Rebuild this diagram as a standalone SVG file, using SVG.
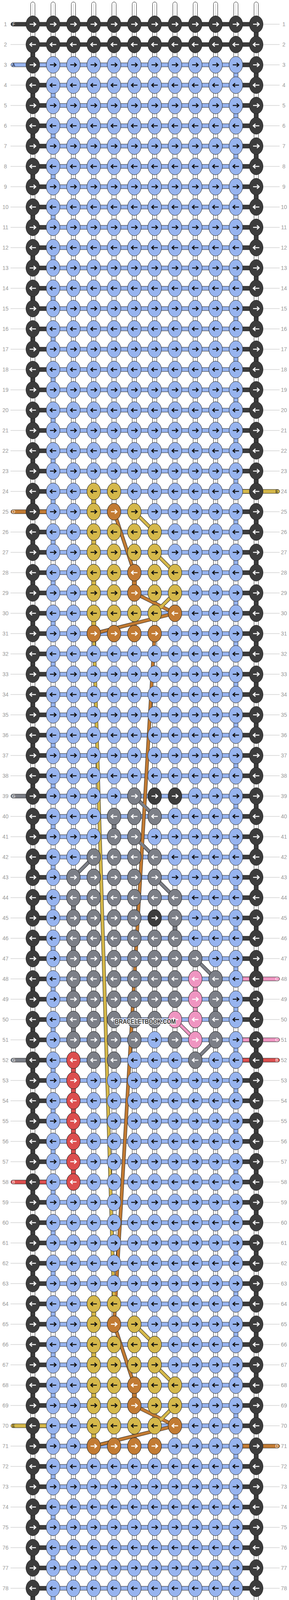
<svg xmlns="http://www.w3.org/2000/svg" xmlns:xlink="http://www.w3.org/1999/xlink" width="740" height="4908" viewBox="0 0 740 4908">
<style>
.d{fill:#3c3c3c;color:#fff}.b{fill:#97b4ef;color:#111}.y{fill:#d5b84a;color:#111}.o{fill:#c27b33;color:#fff}.g{fill:#7c7f87;color:#fff}.p{fill:#ef95c1;color:#fff}.r{fill:#dc4e4e;color:#fff}.w{fill:#fff}
.n{font-family:"Liberation Sans",Arial,sans-serif;font-size:14px;fill:#999;text-anchor:middle}
.lt{font-family:"Liberation Sans",Arial,sans-serif;font-size:11px;text-anchor:middle}
.fo{fill:none;stroke:#222;stroke-width:9;stroke-linecap:round}
.fi{fill:none;stroke-width:7;stroke-linecap:round}
</style>
<defs>
<g id="kr"><ellipse rx="17.5" ry="21.5" stroke="#222" stroke-width="1"/><path d="M-8 0H7M2-5L7.5 0L2 5" fill="none" stroke="currentColor" stroke-width="2.6"/></g>
<g id="kl"><ellipse rx="17.5" ry="21.5" stroke="#222" stroke-width="1"/><path d="M8 0H-7M-2-5L-7.5 0L-2 5" fill="none" stroke="currentColor" stroke-width="2.6"/></g>
<rect id="vs" x="-5.5" y="16" width="11" height="20" stroke="#222" stroke-width="1"/>
<g id="v"><rect x="-5.5" y="16" width="11" height="20" fill="#fff" stroke="#222" stroke-width="1"/><line x1="0" y1="16" x2="0" y2="36" stroke="#bbb" stroke-width="1"/></g>
<g id="VW"><use href="#v" x="84"/><use href="#v" x="136"/><use href="#v" x="188"/><use href="#v" x="240"/><use href="#v" x="292"/><use href="#v" x="344"/><use href="#v" x="396"/><use href="#v" x="448"/><use href="#v" x="500"/><use href="#v" x="552"/><use href="#v" x="604"/><use href="#v" x="656"/></g>
<g id="VE"><use href="#VW"/><use href="#vs" class="d" x="84"/><use href="#vs" class="b" x="136"/></g>
<g id="VO"><use href="#VW"/><use href="#vs" class="b" x="604"/><use href="#vs" class="d" x="656"/></g>
<g id="V1"><use href="#VW"/><use href="#vs" class="d" x="656"/></g>
<g id="V2"><use href="#VW"/><use href="#vs" class="d" x="84"/></g>
<g id="HB" stroke="#222" stroke-width="1"><rect x="84" y="-5" width="572" height="10" class="b"/><rect x="84" y="-5" width="52" height="10" class="d"/><rect x="604" y="-5" width="52" height="10" class="d"/></g>
<rect id="HD" x="84" y="-5" width="572" height="10" class="d" stroke="#222" stroke-width="1"/>
<rect id="EL" x="84" y="-5" width="52" height="10" stroke="#222" stroke-width="1"/>
<rect id="ER" x="604" y="-5" width="52" height="10" stroke="#222" stroke-width="1"/>
<rect id="SL" x="28" y="-5" width="60" height="10" rx="5" stroke="#222" stroke-width="1"/>
<rect id="SR" x="652" y="-5" width="64" height="10" rx="5" stroke="#222" stroke-width="1"/>
<g id="KRB"><use href="#kr" class="d" x="84"/><use href="#kr" class="b" x="136"/><use href="#kr" class="b" x="188"/><use href="#kr" class="b" x="240"/><use href="#kr" class="b" x="292"/><use href="#kr" class="b" x="344"/><use href="#kr" class="b" x="396"/><use href="#kr" class="b" x="448"/><use href="#kr" class="b" x="500"/><use href="#kr" class="b" x="552"/><use href="#kr" class="b" x="604"/><use href="#kr" class="d" x="656"/></g>
<g id="KLB"><use href="#kl" class="d" x="84"/><use href="#kl" class="b" x="136"/><use href="#kl" class="b" x="188"/><use href="#kl" class="b" x="240"/><use href="#kl" class="b" x="292"/><use href="#kl" class="b" x="344"/><use href="#kl" class="b" x="396"/><use href="#kl" class="b" x="448"/><use href="#kl" class="b" x="500"/><use href="#kl" class="b" x="552"/><use href="#kl" class="b" x="604"/><use href="#kl" class="d" x="656"/></g>
<g id="KRD" class="d"><use href="#kr" x="84"/><use href="#kr" x="136"/><use href="#kr" x="188"/><use href="#kr" x="240"/><use href="#kr" x="292"/><use href="#kr" x="344"/><use href="#kr" x="396"/><use href="#kr" x="448"/><use href="#kr" x="500"/><use href="#kr" x="552"/><use href="#kr" x="604"/><use href="#kr" x="656"/></g>
<g id="KLD" class="d"><use href="#kl" x="84"/><use href="#kl" x="136"/><use href="#kl" x="188"/><use href="#kl" x="240"/><use href="#kl" x="292"/><use href="#kl" x="344"/><use href="#kl" x="396"/><use href="#kl" x="448"/><use href="#kl" x="500"/><use href="#kl" x="552"/><use href="#kl" x="604"/><use href="#kl" x="656"/></g>
<g id="ts"><rect x="-5.5" y="0" width="11" height="50" rx="5.5" fill="#fff" stroke="#222" stroke-width="1"/><line x1="0" y1="5" x2="0" y2="50" stroke="#bbb" stroke-width="1"/></g>
<g id="TS"><use href="#ts" x="84"/><use href="#ts" x="136"/><use href="#ts" x="188"/><use href="#ts" x="240"/><use href="#ts" x="292"/><use href="#ts" x="344"/><use href="#ts" x="396"/><use href="#ts" x="448"/><use href="#ts" x="500"/><use href="#ts" x="552"/><use href="#ts" x="604"/><use href="#ts" x="656"/></g>
<line id="LL" x1="27" y1="0" x2="66" y2="0" stroke="#bbb" stroke-width="1"/>
<line id="RL" x1="674" y1="0" x2="716" y2="0" stroke="#bbb" stroke-width="1"/>
</defs>

<g id="stubs"><use href="#TS" y="5"/><use href="#TS" y="4853"/></g>

<g id="vertical">
<use href="#V1" y="62"/><use href="#V2" y="114"/><use href="#VO" y="166"/><use href="#VE" y="218"/><use href="#VO" y="270"/><use href="#VE" y="322"/><use href="#VO" y="374"/><use href="#VE" y="426"/><use href="#VO" y="478"/><use href="#VE" y="530"/><use href="#VO" y="582"/><use href="#VE" y="634"/><use href="#VO" y="686"/><use href="#VE" y="738"/><use href="#VO" y="790"/><use href="#VE" y="842"/><use href="#VO" y="894"/><use href="#VE" y="946"/><use href="#VO" y="998"/><use href="#VE" y="1050"/><use href="#VO" y="1102"/><use href="#VE" y="1154"/><use href="#VO" y="1206"/><use href="#VE" y="1258"/><use href="#VO" y="1310"/><use href="#VE" y="1362"/><use href="#VO" y="1414"/><use href="#VE" y="1466"/><use href="#VO" y="1518"/><use href="#VE" y="1570"/><use href="#VO" y="1622"/><use href="#VE" y="1674"/><use href="#VO" y="1726"/><use href="#VE" y="1778"/><use href="#VO" y="1830"/><use href="#VE" y="1882"/><use href="#VO" y="1934"/><use href="#VE" y="1986"/><use href="#VO" y="2038"/><use href="#VE" y="2090"/><use href="#VO" y="2142"/><use href="#VE" y="2194"/><use href="#VO" y="2246"/><use href="#VE" y="2298"/><use href="#VO" y="2350"/><use href="#VE" y="2402"/><use href="#VO" y="2454"/><use href="#VE" y="2506"/><use href="#VO" y="2558"/><use href="#VE" y="2610"/><use href="#VO" y="2662"/><use href="#VE" y="2714"/><use href="#VO" y="2766"/><use href="#VE" y="2818"/><use href="#VO" y="2870"/><use href="#VE" y="2922"/><use href="#VO" y="2974"/><use href="#VE" y="3026"/><use href="#VO" y="3078"/><use href="#VE" y="3130"/><use href="#VO" y="3182"/><use href="#VE" y="3234"/><use href="#VO" y="3286"/><use href="#VE" y="3338"/><use href="#VO" y="3390"/><use href="#VE" y="3442"/><use href="#VO" y="3494"/><use href="#VE" y="3546"/><use href="#VO" y="3598"/><use href="#VE" y="3650"/><use href="#VO" y="3702"/><use href="#VE" y="3754"/><use href="#VO" y="3806"/><use href="#VE" y="3858"/><use href="#VO" y="3910"/><use href="#VE" y="3962"/><use href="#VO" y="4014"/><use href="#VE" y="4066"/><use href="#VO" y="4118"/><use href="#VE" y="4170"/><use href="#VO" y="4222"/><use href="#VE" y="4274"/><use href="#VO" y="4326"/><use href="#VE" y="4378"/><use href="#VO" y="4430"/><use href="#VE" y="4482"/><use href="#VO" y="4534"/><use href="#VE" y="4586"/><use href="#VO" y="4638"/><use href="#VE" y="4690"/><use href="#V1" y="4742"/><use href="#V2" y="4794"/>
<use href="#vs" class="y" x="240" y="1258"/><use href="#vs" class="y" x="240" y="1362"/><use href="#vs" class="y" x="240" y="1466"/><use href="#vs" class="y" x="240" y="1570"/>
<use href="#vs" class="y" x="240" y="3338"/><use href="#vs" class="y" x="240" y="3442"/><use href="#vs" class="y" x="240" y="3546"/><use href="#vs" class="y" x="240" y="3650"/>
<use href="#vs" class="o" x="344" y="1466"/><use href="#vs" class="o" x="344" y="3546"/>
<use href="#vs" class="g" x="292" y="2090"/><use href="#vs" class="g" x="188" y="2298"/><use href="#vs" class="g" x="188" y="2402"/><use href="#vs" class="g" x="188" y="2506"/><use href="#vs" class="g" x="188" y="2610"/><use href="#vs" class="g" x="448" y="2350"/><use href="#vs" class="g" x="552" y="2558"/>
<use href="#vs" class="p" x="500" y="2506"/><use href="#vs" class="p" x="500" y="2558"/>
<use href="#vs" class="r" x="188" y="2714"/><use href="#vs" class="r" x="188" y="2766"/><use href="#vs" class="r" x="188" y="2818"/><use href="#vs" class="r" x="188" y="2870"/><use href="#vs" class="r" x="188" y="2922"/><use href="#vs" class="r" x="188" y="2974"/>
</g>

<g id="strands">
<use href="#HD" y="62"/><use href="#HD" y="114"/><use href="#HB" y="166"/><use href="#HB" y="218"/><use href="#HB" y="270"/><use href="#HB" y="322"/><use href="#HB" y="374"/><use href="#HB" y="426"/><use href="#HB" y="478"/><use href="#HB" y="530"/><use href="#HB" y="582"/><use href="#HB" y="634"/><use href="#HB" y="686"/><use href="#HB" y="738"/><use href="#HB" y="790"/><use href="#HB" y="842"/><use href="#HB" y="894"/><use href="#HB" y="946"/><use href="#HB" y="998"/><use href="#HB" y="1050"/><use href="#HB" y="1102"/><use href="#HB" y="1154"/><use href="#HB" y="1206"/><use href="#HB" y="1258"/><use href="#HB" y="1310"/><use href="#HB" y="1362"/><use href="#HB" y="1414"/><use href="#HB" y="1466"/><use href="#HB" y="1518"/><use href="#HB" y="1570"/><use href="#HB" y="1622"/><use href="#HB" y="1674"/><use href="#HB" y="1726"/><use href="#HB" y="1778"/><use href="#HB" y="1830"/><use href="#HB" y="1882"/><use href="#HB" y="1934"/><use href="#HB" y="1986"/><use href="#HB" y="2038"/><use href="#HB" y="2090"/><use href="#HB" y="2142"/><use href="#HB" y="2194"/><use href="#HB" y="2246"/><use href="#HB" y="2298"/><use href="#HB" y="2350"/><use href="#HB" y="2402"/><use href="#HB" y="2454"/><use href="#HB" y="2506"/><use href="#HB" y="2558"/><use href="#HB" y="2610"/><use href="#HB" y="2662"/><use href="#HB" y="2714"/><use href="#HB" y="2766"/><use href="#HB" y="2818"/><use href="#HB" y="2870"/><use href="#HB" y="2922"/><use href="#HB" y="2974"/><use href="#HB" y="3026"/><use href="#HB" y="3078"/><use href="#HB" y="3130"/><use href="#HB" y="3182"/><use href="#HB" y="3234"/><use href="#HB" y="3286"/><use href="#HB" y="3338"/><use href="#HB" y="3390"/><use href="#HB" y="3442"/><use href="#HB" y="3494"/><use href="#HB" y="3546"/><use href="#HB" y="3598"/><use href="#HB" y="3650"/><use href="#HB" y="3702"/><use href="#HB" y="3754"/><use href="#HB" y="3806"/><use href="#HB" y="3858"/><use href="#HB" y="3910"/><use href="#HB" y="3962"/><use href="#HB" y="4014"/><use href="#HB" y="4066"/><use href="#HB" y="4118"/><use href="#HB" y="4170"/><use href="#HB" y="4222"/><use href="#HB" y="4274"/><use href="#HB" y="4326"/><use href="#HB" y="4378"/><use href="#HB" y="4430"/><use href="#HB" y="4482"/><use href="#HB" y="4534"/><use href="#HB" y="4586"/><use href="#HB" y="4638"/><use href="#HB" y="4690"/><use href="#HB" y="4742"/><use href="#HD" y="4794"/><use href="#HD" y="4846"/>
<use href="#EL" class="b" y="166"/><use href="#ER" class="y" y="1258"/><use href="#EL" class="o" y="1310"/><use href="#ER" class="p" y="2506"/><use href="#ER" class="p" y="2662"/><use href="#ER" class="r" y="2714"/><use href="#EL" class="r" y="3026"/><use href="#EL" class="y" y="3650"/><use href="#ER" class="o" y="3702"/><use href="#ER" class="b" y="4742"/>
<use href="#SL" class="d" y="62"/><use href="#SL" class="b" y="166"/><use href="#SL" class="o" y="1310"/><use href="#SL" class="g" y="2038"/><use href="#SL" class="g" y="2714"/><use href="#SL" class="r" y="3026"/><use href="#SL" class="y" y="3650"/>
<use href="#SR" class="y" y="1258"/><use href="#SR" class="p" y="2506"/><use href="#SR" class="p" y="2662"/><use href="#SR" class="r" y="2714"/><use href="#SR" class="o" y="3702"/><use href="#SR" class="b" y="4742"/><use href="#SR" class="d" y="4846"/>
</g>

<g id="connectors">
<path class="fo" d="M292 1310L344 1466M344 1310L396 1362M396 1414L448 1466M344 1518L448 1570M448 1518L396 1570M448 1570L240 1622M292 3390L344 3546M344 3390L396 3442M396 3494L448 3546M344 3598L448 3650M448 3598L396 3650M448 3650L240 3702M396 1622L292 3390M240 1622L292 3338M344 2038L396 2090M344 2142L396 2194M240 2194L188 2246M396 2246L448 2298M500 2454L552 2506M448 2610L500 2662M552 2662L500 2714"/>
<path class="fi" stroke="#c27b33" d="M292 1310L344 1466M344 1518L448 1570M448 1570L240 1622M292 3390L344 3546M344 3598L448 3650M448 3650L240 3702M396 1622L292 3390"/>
<path class="fi" stroke="#d5b84a" d="M344 1310L396 1362M396 1414L448 1466M448 1518L396 1570M344 3390L396 3442M396 3494L448 3546M448 3598L396 3650M240 1622L292 3338"/>
<path class="fi" stroke="#7c7f87" d="M344 2038L396 2090M344 2142L396 2194M240 2194L188 2246M396 2246L448 2298M500 2454L552 2506M552 2662L500 2714"/>
<path class="fi" stroke="#ef95c1" d="M448 2610L500 2662"/>
</g>

<g id="knots">
<use href="#KRD" y="62"/><use href="#KLD" y="114"/><use href="#KRB" y="166"/><use href="#KLB" y="218"/><use href="#KRB" y="270"/><use href="#KLB" y="322"/><use href="#KRB" y="374"/><use href="#KLB" y="426"/><use href="#KRB" y="478"/><use href="#KLB" y="530"/><use href="#KRB" y="582"/><use href="#KLB" y="634"/><use href="#KRB" y="686"/><use href="#KLB" y="738"/><use href="#KRB" y="790"/><use href="#KLB" y="842"/><use href="#KRB" y="894"/><use href="#KLB" y="946"/><use href="#KRB" y="998"/><use href="#KLB" y="1050"/><use href="#KRB" y="1102"/><use href="#KLB" y="1154"/><use href="#KRB" y="1206"/><use href="#KLB" y="1258"/><use href="#KRB" y="1310"/><use href="#KLB" y="1362"/><use href="#KRB" y="1414"/><use href="#KLB" y="1466"/><use href="#KRB" y="1518"/><use href="#KLB" y="1570"/><use href="#KRB" y="1622"/><use href="#KLB" y="1674"/><use href="#KRB" y="1726"/><use href="#KLB" y="1778"/><use href="#KRB" y="1830"/><use href="#KLB" y="1882"/><use href="#KRB" y="1934"/><use href="#KLB" y="1986"/><use href="#KRB" y="2038"/><use href="#KLB" y="2090"/><use href="#KRB" y="2142"/><use href="#KLB" y="2194"/><use href="#KRB" y="2246"/><use href="#KLB" y="2298"/><use href="#KRB" y="2350"/><use href="#KLB" y="2402"/><use href="#KRB" y="2454"/><use href="#KLB" y="2506"/><use href="#KRB" y="2558"/><use href="#KLB" y="2610"/><use href="#KRB" y="2662"/><use href="#KLB" y="2714"/><use href="#KRB" y="2766"/><use href="#KLB" y="2818"/><use href="#KRB" y="2870"/><use href="#KLB" y="2922"/><use href="#KRB" y="2974"/><use href="#KLB" y="3026"/><use href="#KRB" y="3078"/><use href="#KLB" y="3130"/><use href="#KRB" y="3182"/><use href="#KLB" y="3234"/><use href="#KRB" y="3286"/><use href="#KLB" y="3338"/><use href="#KRB" y="3390"/><use href="#KLB" y="3442"/><use href="#KRB" y="3494"/><use href="#KLB" y="3546"/><use href="#KRB" y="3598"/><use href="#KLB" y="3650"/><use href="#KRB" y="3702"/><use href="#KLB" y="3754"/><use href="#KRB" y="3806"/><use href="#KLB" y="3858"/><use href="#KRB" y="3910"/><use href="#KLB" y="3962"/><use href="#KRB" y="4014"/><use href="#KLB" y="4066"/><use href="#KRB" y="4118"/><use href="#KLB" y="4170"/><use href="#KRB" y="4222"/><use href="#KLB" y="4274"/><use href="#KRB" y="4326"/><use href="#KLB" y="4378"/><use href="#KRB" y="4430"/><use href="#KLB" y="4482"/><use href="#KRB" y="4534"/><use href="#KLB" y="4586"/><use href="#KRB" y="4638"/><use href="#KLB" y="4690"/><use href="#KRB" y="4742"/><use href="#KLD" y="4794"/><use href="#KRD" y="4846"/>
</g>

<g id="motif-top">
<use href="#kl" class="y" x="240" y="1258"/><use href="#kl" class="y" x="292" y="1258"/>
<use href="#kr" class="y" x="240" y="1310"/><use href="#kr" class="o" x="292" y="1310"/><use href="#kr" class="y" x="344" y="1310"/>
<use href="#kl" class="y" x="240" y="1362"/><use href="#kl" class="y" x="292" y="1362"/><use href="#kl" class="y" x="344" y="1362"/><use href="#kl" class="y" x="396" y="1362"/>
<use href="#kr" class="y" x="240" y="1414"/><use href="#kr" class="y" x="292" y="1414"/><use href="#kr" class="y" x="344" y="1414"/><use href="#kr" class="y" x="396" y="1414"/>
<use href="#kl" class="y" x="240" y="1466"/><use href="#kl" class="y" x="292" y="1466"/><use href="#kl" class="o" x="344" y="1466"/><use href="#kl" class="y" x="396" y="1466"/><use href="#kl" class="y" x="448" y="1466"/>
<use href="#kr" class="y" x="240" y="1518"/><use href="#kr" class="y" x="292" y="1518"/><use href="#kr" class="o" x="344" y="1518"/><use href="#kr" class="y" x="396" y="1518"/><use href="#kr" class="y" x="448" y="1518"/>
<use href="#kl" class="y" x="240" y="1570"/><use href="#kl" class="y" x="292" y="1570"/><use href="#kl" class="y" x="344" y="1570"/><use href="#kl" class="y" x="396" y="1570"/><use href="#kl" class="o" x="448" y="1570"/>
<use href="#kr" class="o" x="240" y="1622"/><use href="#kr" class="o" x="292" y="1622"/><use href="#kr" class="o" x="344" y="1622"/><use href="#kr" class="o" x="396" y="1622"/>
</g>
<g id="motif-bottom">
<use href="#kl" class="y" x="240" y="3338"/><use href="#kl" class="y" x="292" y="3338"/>
<use href="#kr" class="y" x="240" y="3390"/><use href="#kr" class="o" x="292" y="3390"/><use href="#kr" class="y" x="344" y="3390"/>
<use href="#kl" class="y" x="240" y="3442"/><use href="#kl" class="y" x="292" y="3442"/><use href="#kl" class="y" x="344" y="3442"/><use href="#kl" class="y" x="396" y="3442"/>
<use href="#kr" class="y" x="240" y="3494"/><use href="#kr" class="y" x="292" y="3494"/><use href="#kr" class="y" x="344" y="3494"/><use href="#kr" class="y" x="396" y="3494"/>
<use href="#kl" class="y" x="240" y="3546"/><use href="#kl" class="y" x="292" y="3546"/><use href="#kl" class="o" x="344" y="3546"/><use href="#kl" class="y" x="396" y="3546"/><use href="#kl" class="y" x="448" y="3546"/>
<use href="#kr" class="y" x="240" y="3598"/><use href="#kr" class="y" x="292" y="3598"/><use href="#kr" class="o" x="344" y="3598"/><use href="#kr" class="y" x="396" y="3598"/><use href="#kr" class="y" x="448" y="3598"/>
<use href="#kl" class="y" x="240" y="3650"/><use href="#kl" class="y" x="292" y="3650"/><use href="#kl" class="y" x="344" y="3650"/><use href="#kl" class="y" x="396" y="3650"/><use href="#kl" class="o" x="448" y="3650"/>
<use href="#kr" class="o" x="240" y="3702"/><use href="#kr" class="o" x="292" y="3702"/><use href="#kr" class="o" x="344" y="3702"/><use href="#kr" class="o" x="396" y="3702"/>
</g>
<g id="motif-middle">
<use href="#kr" class="g" x="344" y="2038"/><use href="#kr" class="d" x="396" y="2038"/><use href="#kr" class="d" x="448" y="2038"/>
<use href="#kl" class="g" x="292" y="2090"/><use href="#kl" class="g" x="344" y="2090"/><use href="#kl" class="g" x="396" y="2090"/>
<use href="#kr" class="g" x="292" y="2142"/><use href="#kr" class="g" x="344" y="2142"/>
<use href="#kl" class="g" x="240" y="2194"/><use href="#kl" class="g" x="292" y="2194"/><use href="#kl" class="g" x="344" y="2194"/><use href="#kl" class="g" x="396" y="2194"/>
<use href="#kr" class="g" x="188" y="2246"/><use href="#kr" class="g" x="240" y="2246"/><use href="#kr" class="g" x="292" y="2246"/><use href="#kr" class="g" x="344" y="2246"/><use href="#kr" class="g" x="396" y="2246"/>
<use href="#kl" class="g" x="188" y="2298"/><use href="#kl" class="g" x="240" y="2298"/><use href="#kl" class="g" x="292" y="2298"/><use href="#kl" class="g" x="344" y="2298"/><use href="#kl" class="g" x="396" y="2298"/><use href="#kl" class="g" x="448" y="2298"/>
<use href="#kr" class="g" x="188" y="2350"/><use href="#kr" class="g" x="240" y="2350"/><use href="#kr" class="g" x="292" y="2350"/><use href="#kr" class="g" x="344" y="2350"/><use href="#kr" class="d" x="396" y="2350"/><use href="#kr" class="g" x="448" y="2350"/>
<use href="#kl" class="g" x="188" y="2402"/><use href="#kl" class="g" x="240" y="2402"/><use href="#kl" class="g" x="292" y="2402"/><use href="#kl" class="g" x="344" y="2402"/><use href="#kl" class="g" x="396" y="2402"/><use href="#kl" class="g" x="448" y="2402"/>
<use href="#kr" class="g" x="188" y="2454"/><use href="#kr" class="g" x="240" y="2454"/><use href="#kr" class="g" x="292" y="2454"/><use href="#kr" class="g" x="344" y="2454"/><use href="#kr" class="g" x="396" y="2454"/><use href="#kr" class="g" x="448" y="2454"/><use href="#kr" class="g" x="500" y="2454"/>
<use href="#kl" class="g" x="188" y="2506"/><use href="#kl" class="g" x="240" y="2506"/><use href="#kl" class="g" x="292" y="2506"/><use href="#kl" class="g" x="344" y="2506"/><use href="#kl" class="g" x="396" y="2506"/><use href="#kl" class="g" x="448" y="2506"/><use href="#kl" class="p" x="500" y="2506"/><use href="#kl" class="g" x="552" y="2506"/>
<use href="#kr" class="g" x="188" y="2558"/><use href="#kr" class="g" x="240" y="2558"/><use href="#kr" class="g" x="292" y="2558"/><use href="#kr" class="g" x="344" y="2558"/><use href="#kr" class="g" x="396" y="2558"/><use href="#kr" class="g" x="448" y="2558"/><use href="#kr" class="p" x="500" y="2558"/><use href="#kr" class="g" x="552" y="2558"/>
<use href="#kl" class="g" x="188" y="2610"/><use href="#kl" class="g" x="240" y="2610"/><use href="#kl" class="g" x="292" y="2610"/><use href="#kl" class="g" x="344" y="2610"/><use href="#kl" class="g" x="396" y="2610"/><use href="#kl" class="p" x="448" y="2610"/><use href="#kl" class="p" x="500" y="2610"/><use href="#kl" class="g" x="552" y="2610"/>
<use href="#kr" class="g" x="188" y="2662"/><use href="#kr" class="g" x="240" y="2662"/><use href="#kr" class="g" x="292" y="2662"/><use href="#kr" class="g" x="344" y="2662"/><use href="#kr" class="g" x="448" y="2662"/><use href="#kr" class="p" x="500" y="2662"/><use href="#kr" class="g" x="552" y="2662"/>
<use href="#kl" class="r" x="188" y="2714"/><use href="#kl" class="g" x="240" y="2714"/><use href="#kl" class="g" x="292" y="2714"/><use href="#kl" class="g" x="500" y="2714"/>
<use href="#kr" class="r" x="188" y="2766"/><use href="#kl" class="r" x="188" y="2818"/><use href="#kr" class="r" x="188" y="2870"/><use href="#kl" class="r" x="188" y="2922"/><use href="#kr" class="r" x="188" y="2974"/><use href="#kl" class="r" x="188" y="3026"/>
</g>

<g id="string-labels" class="lt">
<text x="35" y="66" fill="#fff">F</text><text x="35" y="170" fill="#111">A</text><text x="35" y="1314" fill="#fff">D</text><text x="35" y="2042" fill="#fff">G</text><text x="35" y="2718" fill="#fff">G</text><text x="35" y="3030" fill="#fff">B</text><text x="35" y="3654" fill="#111">E</text>
<text x="709" y="1262" fill="#111">E</text><text x="709" y="2510" fill="#fff">C</text><text x="709" y="2666" fill="#fff">C</text><text x="709" y="2718" fill="#fff">B</text><text x="709" y="3706" fill="#fff">D</text><text x="709" y="4746" fill="#111">A</text><text x="709" y="4850" fill="#fff">F</text>
</g>

<g id="row-lines">
<use href="#LL" y="114"/><use href="#LL" y="218"/><use href="#LL" y="270"/><use href="#LL" y="322"/><use href="#LL" y="374"/><use href="#LL" y="426"/><use href="#LL" y="478"/><use href="#LL" y="530"/><use href="#LL" y="582"/><use href="#LL" y="634"/><use href="#LL" y="686"/><use href="#LL" y="738"/><use href="#LL" y="790"/><use href="#LL" y="842"/><use href="#LL" y="894"/><use href="#LL" y="946"/><use href="#LL" y="998"/><use href="#LL" y="1050"/><use href="#LL" y="1102"/><use href="#LL" y="1154"/><use href="#LL" y="1206"/><use href="#LL" y="1258"/><use href="#LL" y="1362"/><use href="#LL" y="1414"/><use href="#LL" y="1466"/><use href="#LL" y="1518"/><use href="#LL" y="1570"/><use href="#LL" y="1622"/><use href="#LL" y="1674"/><use href="#LL" y="1726"/><use href="#LL" y="1778"/><use href="#LL" y="1830"/><use href="#LL" y="1882"/><use href="#LL" y="1934"/><use href="#LL" y="1986"/><use href="#LL" y="2090"/><use href="#LL" y="2142"/><use href="#LL" y="2194"/><use href="#LL" y="2246"/><use href="#LL" y="2298"/><use href="#LL" y="2350"/><use href="#LL" y="2402"/><use href="#LL" y="2454"/><use href="#LL" y="2506"/><use href="#LL" y="2558"/><use href="#LL" y="2610"/><use href="#LL" y="2662"/><use href="#LL" y="2766"/><use href="#LL" y="2818"/><use href="#LL" y="2870"/><use href="#LL" y="2922"/><use href="#LL" y="2974"/><use href="#LL" y="3078"/><use href="#LL" y="3130"/><use href="#LL" y="3182"/><use href="#LL" y="3234"/><use href="#LL" y="3286"/><use href="#LL" y="3338"/><use href="#LL" y="3390"/><use href="#LL" y="3442"/><use href="#LL" y="3494"/><use href="#LL" y="3546"/><use href="#LL" y="3598"/><use href="#LL" y="3702"/><use href="#LL" y="3754"/><use href="#LL" y="3806"/><use href="#LL" y="3858"/><use href="#LL" y="3910"/><use href="#LL" y="3962"/><use href="#LL" y="4014"/><use href="#LL" y="4066"/><use href="#LL" y="4118"/><use href="#LL" y="4170"/><use href="#LL" y="4222"/><use href="#LL" y="4274"/><use href="#LL" y="4326"/><use href="#LL" y="4378"/><use href="#LL" y="4430"/><use href="#LL" y="4482"/><use href="#LL" y="4534"/><use href="#LL" y="4586"/><use href="#LL" y="4638"/><use href="#LL" y="4690"/><use href="#LL" y="4742"/><use href="#LL" y="4794"/><use href="#LL" y="4846"/>
<use href="#RL" y="62"/><use href="#RL" y="114"/><use href="#RL" y="166"/><use href="#RL" y="218"/><use href="#RL" y="270"/><use href="#RL" y="322"/><use href="#RL" y="374"/><use href="#RL" y="426"/><use href="#RL" y="478"/><use href="#RL" y="530"/><use href="#RL" y="582"/><use href="#RL" y="634"/><use href="#RL" y="686"/><use href="#RL" y="738"/><use href="#RL" y="790"/><use href="#RL" y="842"/><use href="#RL" y="894"/><use href="#RL" y="946"/><use href="#RL" y="998"/><use href="#RL" y="1050"/><use href="#RL" y="1102"/><use href="#RL" y="1154"/><use href="#RL" y="1206"/><use href="#RL" y="1310"/><use href="#RL" y="1362"/><use href="#RL" y="1414"/><use href="#RL" y="1466"/><use href="#RL" y="1518"/><use href="#RL" y="1570"/><use href="#RL" y="1622"/><use href="#RL" y="1674"/><use href="#RL" y="1726"/><use href="#RL" y="1778"/><use href="#RL" y="1830"/><use href="#RL" y="1882"/><use href="#RL" y="1934"/><use href="#RL" y="1986"/><use href="#RL" y="2038"/><use href="#RL" y="2090"/><use href="#RL" y="2142"/><use href="#RL" y="2194"/><use href="#RL" y="2246"/><use href="#RL" y="2298"/><use href="#RL" y="2350"/><use href="#RL" y="2402"/><use href="#RL" y="2454"/><use href="#RL" y="2558"/><use href="#RL" y="2610"/><use href="#RL" y="2766"/><use href="#RL" y="2818"/><use href="#RL" y="2870"/><use href="#RL" y="2922"/><use href="#RL" y="2974"/><use href="#RL" y="3026"/><use href="#RL" y="3078"/><use href="#RL" y="3130"/><use href="#RL" y="3182"/><use href="#RL" y="3234"/><use href="#RL" y="3286"/><use href="#RL" y="3338"/><use href="#RL" y="3390"/><use href="#RL" y="3442"/><use href="#RL" y="3494"/><use href="#RL" y="3546"/><use href="#RL" y="3598"/><use href="#RL" y="3650"/><use href="#RL" y="3754"/><use href="#RL" y="3806"/><use href="#RL" y="3858"/><use href="#RL" y="3910"/><use href="#RL" y="3962"/><use href="#RL" y="4014"/><use href="#RL" y="4066"/><use href="#RL" y="4118"/><use href="#RL" y="4170"/><use href="#RL" y="4222"/><use href="#RL" y="4274"/><use href="#RL" y="4326"/><use href="#RL" y="4378"/><use href="#RL" y="4430"/><use href="#RL" y="4482"/><use href="#RL" y="4534"/><use href="#RL" y="4586"/><use href="#RL" y="4638"/><use href="#RL" y="4690"/><use href="#RL" y="4794"/>
</g>

<g id="row-numbers" class="n">
<text x="14" y="67">1</text><text x="14" y="119">2</text><text x="14" y="171">3</text><text x="14" y="223">4</text><text x="14" y="275">5</text><text x="14" y="327">6</text><text x="14" y="379">7</text><text x="14" y="431">8</text><text x="14" y="483">9</text><text x="14" y="535">10</text><text x="14" y="587">11</text><text x="14" y="639">12</text><text x="14" y="691">13</text><text x="14" y="743">14</text><text x="14" y="795">15</text><text x="14" y="847">16</text><text x="14" y="899">17</text><text x="14" y="951">18</text><text x="14" y="1003">19</text><text x="14" y="1055">20</text><text x="14" y="1107">21</text><text x="14" y="1159">22</text><text x="14" y="1211">23</text><text x="14" y="1263">24</text><text x="14" y="1315">25</text><text x="14" y="1367">26</text><text x="14" y="1419">27</text><text x="14" y="1471">28</text><text x="14" y="1523">29</text><text x="14" y="1575">30</text><text x="14" y="1627">31</text><text x="14" y="1679">32</text><text x="14" y="1731">33</text><text x="14" y="1783">34</text><text x="14" y="1835">35</text><text x="14" y="1887">36</text><text x="14" y="1939">37</text><text x="14" y="1991">38</text><text x="14" y="2043">39</text><text x="14" y="2095">40</text><text x="14" y="2147">41</text><text x="14" y="2199">42</text><text x="14" y="2251">43</text><text x="14" y="2303">44</text><text x="14" y="2355">45</text><text x="14" y="2407">46</text><text x="14" y="2459">47</text><text x="14" y="2511">48</text><text x="14" y="2563">49</text><text x="14" y="2615">50</text><text x="14" y="2667">51</text><text x="14" y="2719">52</text><text x="14" y="2771">53</text><text x="14" y="2823">54</text><text x="14" y="2875">55</text><text x="14" y="2927">56</text><text x="14" y="2979">57</text><text x="14" y="3031">58</text><text x="14" y="3083">59</text><text x="14" y="3135">60</text><text x="14" y="3187">61</text><text x="14" y="3239">62</text><text x="14" y="3291">63</text><text x="14" y="3343">64</text><text x="14" y="3395">65</text><text x="14" y="3447">66</text><text x="14" y="3499">67</text><text x="14" y="3551">68</text><text x="14" y="3603">69</text><text x="14" y="3655">70</text><text x="14" y="3707">71</text><text x="14" y="3759">72</text><text x="14" y="3811">73</text><text x="14" y="3863">74</text><text x="14" y="3915">75</text><text x="14" y="3967">76</text><text x="14" y="4019">77</text><text x="14" y="4071">78</text><text x="14" y="4123">79</text><text x="14" y="4175">80</text><text x="14" y="4227">81</text><text x="14" y="4279">82</text><text x="14" y="4331">83</text><text x="14" y="4383">84</text><text x="14" y="4435">85</text><text x="14" y="4487">86</text><text x="14" y="4539">87</text><text x="14" y="4591">88</text><text x="14" y="4643">89</text><text x="14" y="4695">90</text><text x="14" y="4747">91</text><text x="14" y="4799">92</text><text x="14" y="4851">93</text>
<text x="727" y="67">1</text><text x="727" y="119">2</text><text x="727" y="171">3</text><text x="727" y="223">4</text><text x="727" y="275">5</text><text x="727" y="327">6</text><text x="727" y="379">7</text><text x="727" y="431">8</text><text x="727" y="483">9</text><text x="727" y="535">10</text><text x="727" y="587">11</text><text x="727" y="639">12</text><text x="727" y="691">13</text><text x="727" y="743">14</text><text x="727" y="795">15</text><text x="727" y="847">16</text><text x="727" y="899">17</text><text x="727" y="951">18</text><text x="727" y="1003">19</text><text x="727" y="1055">20</text><text x="727" y="1107">21</text><text x="727" y="1159">22</text><text x="727" y="1211">23</text><text x="727" y="1263">24</text><text x="727" y="1315">25</text><text x="727" y="1367">26</text><text x="727" y="1419">27</text><text x="727" y="1471">28</text><text x="727" y="1523">29</text><text x="727" y="1575">30</text><text x="727" y="1627">31</text><text x="727" y="1679">32</text><text x="727" y="1731">33</text><text x="727" y="1783">34</text><text x="727" y="1835">35</text><text x="727" y="1887">36</text><text x="727" y="1939">37</text><text x="727" y="1991">38</text><text x="727" y="2043">39</text><text x="727" y="2095">40</text><text x="727" y="2147">41</text><text x="727" y="2199">42</text><text x="727" y="2251">43</text><text x="727" y="2303">44</text><text x="727" y="2355">45</text><text x="727" y="2407">46</text><text x="727" y="2459">47</text><text x="727" y="2511">48</text><text x="727" y="2563">49</text><text x="727" y="2615">50</text><text x="727" y="2667">51</text><text x="727" y="2719">52</text><text x="727" y="2771">53</text><text x="727" y="2823">54</text><text x="727" y="2875">55</text><text x="727" y="2927">56</text><text x="727" y="2979">57</text><text x="727" y="3031">58</text><text x="727" y="3083">59</text><text x="727" y="3135">60</text><text x="727" y="3187">61</text><text x="727" y="3239">62</text><text x="727" y="3291">63</text><text x="727" y="3343">64</text><text x="727" y="3395">65</text><text x="727" y="3447">66</text><text x="727" y="3499">67</text><text x="727" y="3551">68</text><text x="727" y="3603">69</text><text x="727" y="3655">70</text><text x="727" y="3707">71</text><text x="727" y="3759">72</text><text x="727" y="3811">73</text><text x="727" y="3863">74</text><text x="727" y="3915">75</text><text x="727" y="3967">76</text><text x="727" y="4019">77</text><text x="727" y="4071">78</text><text x="727" y="4123">79</text><text x="727" y="4175">80</text><text x="727" y="4227">81</text><text x="727" y="4279">82</text><text x="727" y="4331">83</text><text x="727" y="4383">84</text><text x="727" y="4435">85</text><text x="727" y="4487">86</text><text x="727" y="4539">87</text><text x="727" y="4591">88</text><text x="727" y="4643">89</text><text x="727" y="4695">90</text><text x="727" y="4747">91</text><text x="727" y="4799">92</text><text x="727" y="4851">93</text>
</g>

<text x="372" y="2621" font-family="'Liberation Sans Narrow','Liberation Sans',Arial,sans-serif" font-size="17" font-weight="bold" fill="#333" stroke="#fff" stroke-width="3" paint-order="stroke" text-anchor="middle" textLength="156" lengthAdjust="spacingAndGlyphs">BRACELETBOOK.COM</text>
</svg>
